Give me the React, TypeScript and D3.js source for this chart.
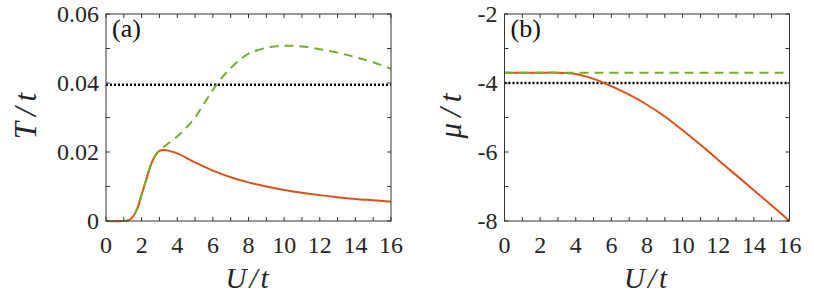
import * as d3 from "d3";

// panel (a): T/t vs U/t
const uOrangeA = [0, 1, 1.25, 1.5, 1.75, 2, 2.25, 2.5, 2.75, 3, 3.25, 3.5, 4, 5, 6, 7, 8, 9, 10, 11, 12, 13, 14, 15, 16];
const tOrangeA = [0, 0, 0.0002, 0.0012, 0.0035, 0.0077, 0.0118, 0.016, 0.0188, 0.0203, 0.0206, 0.0204, 0.0196, 0.017, 0.0146, 0.0127, 0.0112, 0.01, 0.009, 0.0082, 0.0075, 0.0069, 0.0064, 0.006, 0.0056];
const uGreenA = [0, 1, 1.25, 1.5, 1.75, 2, 2.25, 2.5, 2.75, 3, 3.25, 3.5, 4, 4.5, 5, 5.5, 6, 6.5, 7, 7.5, 8, 9, 10, 11, 12, 13, 14, 15, 16];
const tGreenA = [0, 0, 0.0002, 0.0012, 0.0035, 0.0077, 0.0118, 0.016, 0.0188, 0.0205, 0.0215, 0.0225, 0.0245, 0.027, 0.030, 0.034, 0.038, 0.0415, 0.0443, 0.0467, 0.0485, 0.0502, 0.0508, 0.0506, 0.0498, 0.0488, 0.0475, 0.046, 0.0441];
const refA = 0.0395;

// panel (b): mu/t vs U/t
const uOrangeB = [0, 1, 2, 3, 3.5, 4, 4.5, 5, 5.5, 6, 7, 8, 9, 10, 11, 12, 13, 14, 15, 16];
const muOrangeB = [-3.7, -3.7, -3.7, -3.7, -3.71, -3.74, -3.8, -3.88, -3.98, -4.09, -4.34, -4.63, -4.97, -5.37, -5.79, -6.23, -6.67, -7.11, -7.55, -8.0];
const uGreenB = [0, 16];
const muGreenB = [-3.7, -3.7];
const refB = -4;

const xTickLabels = ["0", "2", "4", "6", "8", "10", "12", "14", "16"];
const yTicksA = [0, 0.02, 0.04, 0.06];
const yTickLabelsA = ["0", "0.02", "0.04", "0.06"];
const yTicksB = [-8, -6, -4, -2];
const yTickLabelsB = ["-8", "-6", "-4", "-2"];

const ORANGE = "#D95319";
const GREEN = "#77AC30";
const AXIS = "#333333";
const TEXT = "#262626";
const FONT = "Liberation Serif";

type Series = { u: number[]; v: number[] };

type PanelProps = {
  left: number;
  tag: string;
  yLabel: string;
  yLabelX: number;
  yDomain: [number, number];
  yTicks: number[];
  yTickLabels: string[];
  yMinorStep: number;
  orange: Series;
  green: Series;
  refLine: number;
};

const plotTop = 14;
const plotBottom = 221;
const plotW = 285;

const Panel = ({ left, tag, yLabel, yLabelX, yDomain, yTicks, yTickLabels, yMinorStep, orange, green, refLine }: PanelProps) => {
  const x = d3.scaleLinear().domain([0, 16]).range([left, left + plotW]);
  const y = d3.scaleLinear().domain(yDomain).range([plotBottom, plotTop]);

  const line = d3
    .line<[number, number]>()
    .x((d) => x(d[0]))
    .y((d) => y(d[1]))
    .curve(d3.curveCatmullRom.alpha(0.5));

  const toPts = (s: Series) => s.u.map((u, i) => [u, s.v[i]] as [number, number]);

  const xMinor = d3.range(0, 16.001, 1);
  const yMinor = d3.range(yDomain[0], yDomain[1] + 1e-9, yMinorStep);
  const tk = 4;

  return (
    <g>
      {/* data */}
      <line x1={x(0)} x2={x(16)} y1={y(refLine)} y2={y(refLine)} stroke="#000" strokeWidth={2.5} strokeDasharray="2 2" />
      <path d={line(toPts(orange)) ?? ""} fill="none" stroke={ORANGE} strokeWidth={2} />
      <path d={line(toPts(green)) ?? ""} fill="none" stroke={GREEN} strokeWidth={2} strokeDasharray="9 6" />

      {/* box */}
      <rect x={left} y={plotTop} width={plotW} height={plotBottom - plotTop} fill="none" stroke={AXIS} strokeWidth={1} />
      {xMinor.map((u) => (
        <g key={`xt${u}`} stroke={AXIS} strokeWidth={1}>
          <line x1={x(u)} x2={x(u)} y1={plotBottom} y2={plotBottom - tk} />
          <line x1={x(u)} x2={x(u)} y1={plotTop} y2={plotTop + tk} />
        </g>
      ))}
      {yMinor.map((v) => (
        <g key={`yt${v}`} stroke={AXIS} strokeWidth={1}>
          <line x1={left} x2={left + tk} y1={y(v)} y2={y(v)} />
          <line x1={left + plotW} x2={left + plotW - tk} y1={y(v)} y2={y(v)} />
        </g>
      ))}

      {/* tick labels */}
      {xTickLabels.map((s) => (
        <text key={`xl${s}`} x={x(+s)} y={253} textAnchor="middle" style={{ fontFamily: FONT, fontSize: 24 }} fill={TEXT}>
          {s}
        </text>
      ))}
      {yTicks.map((v, i) => (
        <text key={`yl${v}`} x={left - 7} y={y(v) + 8.2} textAnchor="end" style={{ fontFamily: FONT, fontSize: 24 }} fill={TEXT}>
          {yTickLabels[i]}
        </text>
      ))}

      {/* labels */}
      <text x={x(8)} y={288} textAnchor="middle" style={{ fontFamily: FONT, fontStyle: "italic", fontSize: 29, letterSpacing: 3 }} fill={TEXT}>
        U/t
      </text>
      <text
        transform={`translate(${yLabelX},113) rotate(-90)`}
        textAnchor="middle"
        dy="0.33em"
        style={{ fontFamily: FONT, fontStyle: "italic", fontSize: 31, letterSpacing: 6 }}
        fill={TEXT}
      >
        {yLabel}
      </text>
      <text x={left + 6} y={37} style={{ fontFamily: FONT, fontSize: 26 }} fill="#111">
        {tag}
      </text>
    </g>
  );
};

export default function App() {
  return (
    <svg width={814} height={294} style={{ position: "absolute", left: 0, top: 0, background: "#fff" }}>
      <Panel
        left={106}
        tag="(a)"
        yLabel="T/t"
        yLabelX={26}
        yDomain={[0, 0.06]}
        yTicks={yTicksA}
        yTickLabels={yTickLabelsA}
        yMinorStep={0.01}
        orange={{ u: uOrangeA, v: tOrangeA }}
        green={{ u: uGreenA, v: tGreenA }}
        refLine={refA}
      />
      <Panel
        left={504.5}
        tag="(b)"
        yLabel="μ/t"
        yLabelX={451}
        yDomain={[-8, -2]}
        yTicks={yTicksB}
        yTickLabels={yTickLabelsB}
        yMinorStep={1}
        orange={{ u: uOrangeB, v: muOrangeB }}
        green={{ u: uGreenB, v: muGreenB }}
        refLine={refB}
      />
    </svg>
  );
}
